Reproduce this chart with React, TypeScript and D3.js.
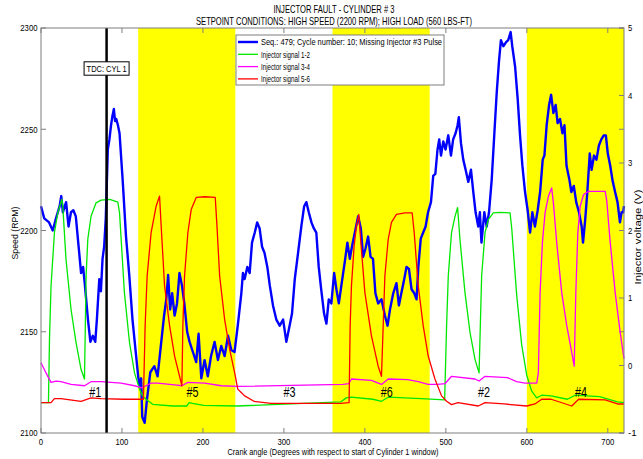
import React from 'react';
import * as d3 from 'd3';

const W = 643, H = 459;
const PL = 41, PR = 624, PT = 28, PB = 433;

const titleLine1 = 'INJECTOR FAULT - CYLINDER # 3';
const titleLine2 = 'SETPOINT CONDITIONS: HIGH SPEED (2200 RPM); HIGH LOAD (560 LBS-FT)';
const xLabel = 'Crank angle (Degrees with respect to start of Cylinder 1 window)';
const yLeftLabel = 'Speed (RPM)';
const yRightLabel = 'Injector voltage (V)';
const xTicks = [0, 100, 200, 300, 400, 500, 600, 700];
const yLeftTicks = [2100, 2150, 2200, 2250, 2300];
const yRightTicks = [-1, 0, 1, 2, 3, 4, 5];
const windowStart = [120, 360, 600];
const windowEnd = [240, 480, 720];
const tdcAngle = 81;
const tdcLabel = 'TDC: CYL 1';
const firingOrder = ['#1', '#5', '#3', '#6', '#2', '#4'];
const firingAngle = [67, 187, 307, 427, 547, 667];

const legendNames = [
  'Seq.: 479; Cycle number: 10; Missing Injector #3 Pulse',
  'Injector signal 1-2',
  'Injector signal 3-4',
  'Injector signal 5-6',
];
const seriesColors = ['#0000ff', '#00e800', '#ff00ff', '#ff0000'];

const speedAngle = [0, 4, 10, 14.5, 18.5, 23, 25, 27, 31, 34, 37, 40, 43, 46, 49.5, 52, 54, 58, 61, 64, 67, 69, 72, 74, 76, 78, 80, 82.5, 84.5, 86.5, 88, 90, 91.5, 93, 95, 97, 101, 105, 109, 113, 117.5, 120, 121.7, 123.7, 125, 128, 131, 135, 140, 144, 148, 152, 154.7, 157, 159.5, 162, 165, 168, 171, 174, 177, 180.5, 183.5, 187.6, 191.7, 194.6, 198, 202, 206, 210, 214.4, 218.5, 222.6, 226.8, 231, 235, 239, 243, 247.4, 249.4, 251.5, 254.8, 257.7, 260.6, 264, 267, 270, 273, 276, 279.5, 282.5, 286.5, 290.6, 294.8, 299, 303, 307, 310, 313.4, 317.5, 321.5, 325, 327.7, 330.7, 334, 337, 340, 343, 346, 349.6, 352.5, 355.4, 358.6, 362, 364.8, 367.8, 371, 375, 378.4, 381.4, 384, 387.6, 391.7, 395, 397.8, 400.7, 404, 407, 410, 413, 416.4, 420.5, 424.7, 428, 431, 435, 439, 442, 445, 448.6, 451.4, 454.4, 457.6, 461, 463.8, 466, 469, 472, 475, 478, 481.6, 484.4, 487, 489.7, 491.8, 494, 496.8, 499.6, 503, 506.3, 509, 512, 514.5, 516, 518.7, 521.5, 524.4, 527.7, 531, 533.9, 536.7, 540, 542, 544, 547.5, 550.4, 553.3, 556.6, 559.9, 562.8, 565.7, 568, 571, 574.4, 577, 580, 582, 585.5, 588.7, 591.6, 594.5, 597.8, 601, 604, 606.8, 610, 613.4, 616.4, 619.6, 621.7, 624.5, 627.5, 630, 632.8, 635.6, 638, 641, 644, 646.5, 649, 652.6, 655, 658, 661, 664.4, 667.7, 669.4, 672, 674.7, 677.7, 680, 683, 686, 689, 692, 695, 697.6, 700, 703, 705.7, 709, 712, 715, 717, 719, 720];
const speedRpm = [2212, 2206, 2204, 2200, 2206, 2212, 2217, 2209, 2214, 2202, 2209, 2210, 2207, 2194, 2179, 2182, 2174, 2156, 2145, 2148, 2145, 2156, 2176, 2170, 2186, 2192, 2206, 2240, 2245, 2252, 2256, 2260, 2254, 2255, 2252, 2248, 2224, 2197, 2178, 2156, 2138, 2128, 2123, 2127, 2108, 2105, 2117, 2130, 2133, 2128, 2143, 2158, 2166, 2178, 2161, 2169, 2158, 2164, 2179, 2173, 2164, 2150, 2145, 2140, 2135, 2149, 2127, 2136, 2128, 2138, 2145, 2136, 2143, 2138, 2148, 2141, 2140, 2153, 2169, 2179, 2176, 2182, 2179, 2194, 2199, 2204, 2201, 2192, 2189, 2182, 2173, 2163, 2156, 2153, 2156, 2145, 2153, 2159, 2176, 2189, 2202, 2212, 2214, 2209, 2204, 2201, 2199, 2182, 2171, 2159, 2154, 2166, 2164, 2179, 2171, 2164, 2173, 2184, 2194, 2186, 2192, 2199, 2207, 2201, 2187, 2191, 2197, 2187, 2186, 2169, 2164, 2166, 2158, 2153, 2161, 2169, 2174, 2163, 2169, 2176, 2182, 2181, 2171, 2169, 2166, 2182, 2196, 2199, 2202, 2209, 2214, 2227, 2228, 2240, 2245, 2237, 2244, 2240, 2247, 2237, 2245, 2248, 2252, 2256, 2243, 2235, 2230, 2224, 2230, 2219, 2209, 2202, 2209, 2194, 2209, 2202, 2209, 2225, 2248, 2268, 2284, 2294, 2291, 2293, 2294, 2298, 2291, 2281, 2265, 2247, 2232, 2219, 2210, 2199, 2209, 2202, 2210, 2219, 2235, 2237, 2252, 2262, 2267, 2258, 2262, 2253, 2255, 2248, 2252, 2232, 2225, 2219, 2222, 2214, 2209, 2202, 2194, 2205, 2219, 2238, 2230, 2237, 2235, 2242, 2245, 2247, 2247, 2238, 2232, 2225, 2219, 2214, 2204, 2209, 2209, 2212];

const inj12Angle = [0, 9.2, 10.5, 12.4, 16.6, 20.7, 25.6, 26.8, 30.9, 37.1, 43.3, 49.5, 53.7, 55.7, 57.8, 61.8, 68, 74.2, 85, 94.9, 97, 103, 109.3, 115.5, 121.7, 125.5, 129.7, 137.9, 162.6, 180, 183, 187, 201, 242, 370, 377, 383, 410, 420.5, 428.8, 470, 498.5, 500.9, 503, 507, 511.3, 514.5, 517.4, 523.6, 529.8, 536, 541, 544.2, 548.4, 552.4, 558.6, 567.3, 579.3, 581.3, 587.4, 593.6, 599.8, 606, 612.2, 618.4, 630, 650, 660, 690, 712, 720];
const inj12Volt = [-0.55, -0.55, 0.4, 1.18, 1.97, 2.26, 2.46, 2.38, 1.57, 0.83, 0.34, -0.06, -0.2, 1.33, 1.87, 2.21, 2.41, 2.45, 2.46, 2.42, 2.26, 1.08, 0.34, -0.11, -0.35, -0.45, -0.5, -0.575, -0.6, -0.6, -0.55, -0.56, -0.59, -0.6, -0.54, -0.48, -0.47, -0.5, -0.53, -0.47, -0.49, -0.51, 0.59, 1.33, 1.97, 2.21, 2.34, 1.87, 1.08, 0.49, 0.09, -0.11, 1.33, 1.97, 2.16, 2.26, 2.27, 2.26, 2.04, 1.05, 0.31, -0.14, -0.38, -0.48, -0.44, -0.45, -0.5, -0.44, -0.46, -0.54, -0.55];

const inj34Angle = [0, 6.2, 12.4, 18.5, 24.7, 37.1, 53.7, 61.8, 74.2, 99, 115.5, 124.9, 136, 144, 168, 174, 181.4, 202, 222.6, 243, 373, 380, 383.4, 408, 420.5, 428.8, 453, 465.9, 478, 490, 498.9, 507, 536, 541, 548.4, 576, 587.4, 597.8, 612.2, 614.2, 616.4, 619.2, 622.5, 626.7, 630.7, 632.8, 636.9, 643.1, 649.3, 655.5, 658.5, 660.5, 663, 665.9, 670, 676.1, 696.8, 698.8, 703, 709.1, 715.3, 720];
const inj34Volt = [0.04, -0.11, -0.25, -0.23, -0.24, -0.28, -0.3, -0.24, -0.24, -0.26, -0.3, -0.33, -0.26, -0.26, -0.29, -0.3, -0.25, -0.26, -0.3, -0.31, -0.28, -0.27, -0.2, -0.22, -0.28, -0.2, -0.21, -0.24, -0.28, -0.28, -0.27, -0.16, -0.2, -0.23, -0.16, -0.18, -0.24, -0.26, -0.26, -0.11, 1.08, 1.82, 2.26, 2.51, 2.63, 2.41, 1.82, 1.08, 0.59, 0.19, -0.01, 1.08, 1.97, 2.36, 2.53, 2.58, 2.58, 2.43, 1.82, 1.08, 0.49, 0.1];

const inj56Angle = [0, 12.4, 16.6, 24.7, 49.5, 61.8, 74, 103, 120, 126.5, 128.6, 131.1, 136, 142.2, 146.4, 148.4, 152.6, 158.8, 165, 174, 175.2, 177.3, 181.4, 185.5, 191.7, 202.4, 215.2, 217.3, 220.6, 226.8, 233, 239.2, 243, 247.3, 251.5, 263, 284, 370, 380.5, 381.8, 383.4, 386.7, 389.6, 392.5, 395, 400, 408.1, 416.4, 420.5, 422.6, 424.7, 428.8, 432.8, 439, 449.4, 458.4, 460.9, 465.9, 472, 478.2, 486.5, 494.7, 500.9, 507, 515, 540, 548.4, 572, 599.8, 610, 618.4, 630, 655.5, 664, 696.8, 712, 720];
const inj56Volt = [-0.55, -0.55, -0.49, -0.49, -0.53, -0.48, -0.49, -0.5, -0.5, -0.5, 0.59, 1.33, 1.97, 2.36, 2.51, 2.07, 1.18, 0.59, 0.14, -0.3, 0.59, 1.33, 1.97, 2.31, 2.49, 2.5, 2.49, 2.07, 1.33, 0.68, 0.24, -0.11, -0.35, -0.4, -0.45, -0.53, -0.56, -0.56, -0.55, 0.59, 1.18, 1.77, 2.07, 2.24, 1.82, 1.08, 0.44, -0.01, -0.16, 0.59, 1.33, 1.87, 2.12, 2.24, 2.26, 2.26, 1.97, 1.18, 0.59, 0.14, -0.2, -0.45, -0.53, -0.58, -0.55, -0.6, -0.55, -0.57, -0.6, -0.57, -0.5, -0.5, -0.6, -0.5, -0.51, -0.57, -0.57];

const FONT = "'Liberation Sans Narrow', 'Arial Narrow', 'Liberation Sans', Arial, sans-serif";
const AXIS = '#7f7f7f';

function numWidth(v: number) {
  return String(v).length * 4.3;
}

export default function App() {
  const x = d3.scaleLinear().domain([0, 720]).range([PL, PR]);
  const yL = d3.scaleLinear().domain([2100, 2300]).range([PB, PT]);
  const yR = d3.scaleLinear().domain([-1, 5]).range([PB, PT]);

  const speedLine = d3.line<number>().x((d, i) => x(speedAngle[i])).y((d) => yL(d));
  const voltLine = (ang: number[]) => d3.line<number>().x((d, i) => x(ang[i])).y((d) => yR(d));

  const injectors = [
    { a: inj12Angle, v: inj12Volt, c: seriesColors[1] },
    { a: inj34Angle, v: inj34Volt, c: seriesColors[2] },
    { a: inj56Angle, v: inj56Volt, c: seriesColors[3] },
  ];

  const tl = 5;
  const legX = 236, legY = 35, legW = 208, legH = 50;
  const legendWidths = [181, 49, 49, 49];

  return (
    <svg width={W} height={H} style={{ position: 'absolute', left: 0, top: 0, background: '#fff' }} fontFamily={FONT}>
      <rect x={0} y={0} width={W} height={H} fill="#fff" />
      {windowStart.map((s, i) => (
        <rect key={'w' + i} x={x(s)} y={PT} width={x(windowEnd[i]) - x(s)} height={PB - PT} fill="#ffff00" />
      ))}
      {xTicks.map((t) => (
        <g key={'xt' + t} stroke={AXIS} strokeWidth={1}>
          <line x1={x(t)} x2={x(t)} y1={PB} y2={PB - tl} />
          <line x1={x(t)} x2={x(t)} y1={PT} y2={PT + tl} />
        </g>
      ))}
      {yLeftTicks.map((t) => (
        <g key={'yl' + t} stroke={AXIS} strokeWidth={1}>
          <line x1={PL} x2={PL + tl} y1={yL(t)} y2={yL(t)} />
          <line x1={PR} x2={PR - tl} y1={yL(t)} y2={yL(t)} />
        </g>
      ))}
      {yRightTicks.map((t) => (
        <line key={'yr' + t} x1={PR} x2={PR - tl} y1={yR(t)} y2={yR(t)} stroke={AXIS} strokeWidth={1} />
      ))}
      <path d={speedLine(speedRpm) || ''} fill="none" stroke={seriesColors[0]} strokeWidth={2.4} strokeLinejoin="round" />
      {injectors.map((s, i) => (
        <path key={'inj' + i} d={voltLine(s.a)(s.v) || ''} fill="none" stroke={s.c} strokeWidth={1.3} strokeLinejoin="round" />
      ))}
      <line x1={x(tdcAngle)} x2={x(tdcAngle)} y1={PT} y2={PB} stroke="#000" strokeWidth={2.5} />
      <rect x={x(tdcAngle) - 22.5} y={yL(2280) - 6.7} width={45} height={13.4} fill="#fff" stroke="#000" strokeWidth={1} />
      <text x={x(tdcAngle)} y={yL(2280) + 3.3} textAnchor="middle" fontSize={9} textLength={40} lengthAdjust="spacingAndGlyphs">{tdcLabel}</text>
      {firingOrder.map((f, i) => (
        <text key={'f' + i} x={x(firingAngle[i])} y={yR(-0.47)} textAnchor="middle" fontSize={14} textLength={12} lengthAdjust="spacingAndGlyphs">{f}</text>
      ))}
      <rect x={PL} y={PT} width={PR - PL} height={PB - PT} fill="none" stroke={AXIS} strokeWidth={1} />
      {xTicks.map((t) => (
        <text key={'xl' + t} x={x(t)} y={444.5} textAnchor="middle" fontSize={9} textLength={numWidth(t)} lengthAdjust="spacingAndGlyphs">{t}</text>
      ))}
      {yLeftTicks.map((t) => (
        <text key={'yll' + t} x={PL - 3.5} y={yL(t) + 3.3} textAnchor="end" fontSize={9} textLength={numWidth(t)} lengthAdjust="spacingAndGlyphs">{t}</text>
      ))}
      {yRightTicks.map((t) => (
        <text key={'yrl' + t} x={PR + 4} y={yR(t) + 3.3} textAnchor="start" fontSize={9} textLength={numWidth(t)} lengthAdjust="spacingAndGlyphs">{t}</text>
      ))}
      <text x={333} y={455} textAnchor="middle" fontSize={9.5} textLength={211} lengthAdjust="spacingAndGlyphs">{xLabel}</text>
      <text transform={`translate(18,233) rotate(-90)`} textAnchor="middle" fontSize={9.5} textLength={53} lengthAdjust="spacingAndGlyphs">{yLeftLabel}</text>
      <text transform={`translate(641,237) rotate(-90)`} textAnchor="middle" fontSize={9.5} textLength={95} lengthAdjust="spacingAndGlyphs">{yRightLabel}</text>
      <text x={334} y={13} textAnchor="middle" fontSize={10.5} textLength={121} lengthAdjust="spacingAndGlyphs">{titleLine1}</text>
      <text x={334} y={25} textAnchor="middle" fontSize={10.5} textLength={276} lengthAdjust="spacingAndGlyphs">{titleLine2}</text>
      <rect x={legX} y={legY} width={legW} height={legH} fill="#fff" stroke={AXIS} strokeWidth={1} />
      {legendNames.map((n, i) => {
        const yy = legY + 7 + i * 12.3;
        return (
          <g key={'lg' + i}>
            <line x1={legX + 2} x2={legX + 22} y1={yy} y2={yy} stroke={seriesColors[i]} strokeWidth={i === 0 ? 2.4 : 1.3} />
            <text x={legX + 25} y={yy + 3.3} fontSize={9} textLength={legendWidths[i]} lengthAdjust="spacingAndGlyphs">{n}</text>
          </g>
        );
      })}
    </svg>
  );
}
